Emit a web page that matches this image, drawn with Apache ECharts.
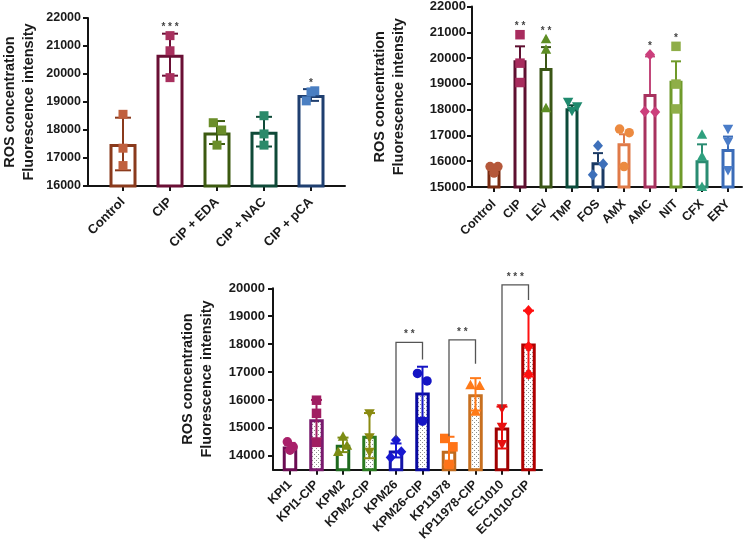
<!DOCTYPE html>
<html><head><meta charset="utf-8">
<script src="https://cdn.jsdelivr.net/npm/echarts@6/dist/echarts.min.js"></script>
<style>html,body{margin:0;padding:0;background:#fff}#c{width:750px;height:547px}</style>
</head><body><div id="c"></div>
<script>
const FONT = 'Arial, "Liberation Sans", Helvetica, sans-serif';

// ---------- Panel A (top left) ----------
const aCats  = ['Control', 'CIP', 'CIP + EDA', 'CIP + NAC', 'CIP + pCA'];
const aMean  = [17500, 20690, 17910, 17940, 19250];
const aErr   = [940, 750, 410, 530, 210];
const aPts   = [[18560, 17350, 16730], [21370, 20830, 19870], [18260, 18000, 17460], [18510, 17860, 17460], [19400, 19360, 19040]];
const aJit   = [[0, 0, 0], [0, 0, 0], [-0.08, 0.1, 0], [0, 0, 0], [0.08, 0, -0.1]];
const aStars = ['', '* * *', '', '', '*'];
const aTicks = [16000, 22000, 1000];

// ---------- Panel B (top right) ----------
const bCats  = ['Control', 'CIP', 'LEV', 'TMP', 'FOS', 'AMX', 'AMC', 'NIT', 'CFX', 'ERY'];
const bMean  = [15680, 19900, 19600, 18050, 15960, 16690, 18600, 19110, 16030, 16470];
const bErr   = [70, 540, 810, 110, 350, 350, 1450, 750, 620, 480];
const bPts   = [[15790, 15790, 15540], [20890, 19790, 19040], [20720, 20310, 18050], [18300, 18120, 17950],
                [16600, 15890, 15470], [17240, 17100, 15790], [20120, 17920, 17900], [20440, 18980, 18020],
                [17020, 16170, 15000], [17250, 16760, 15660]];
const bJit   = [[-0.15, 0.15, 0], [0, 0, 0], [0, 0, 0], [-0.15, 0.2, 0], [0, 0.2, -0.2], [-0.17, 0.2, 0],
                [0, -0.2, 0.2], [0, 0, 0], [0, 0, 0], [0, 0, 0]];
const bStars = ['', '* *', '* *', '', '', '', '*', '*', '', ''];
const bTicks = [15000, 22000, 1000];

// ---------- Panel C (bottom) ----------
const cCats  = ['KPI1', 'KPI1-CIP', 'KPM2', 'KPM2-CIP', 'KPM26', 'KPM26-CIP', 'KP11978', 'KP11978-CIP', 'EC1010', 'EC1010-CIP'];
const cMean  = [14330, 15310, 14390, 14720, 14190, 16270, 14180, 16200, 15010, 18020];
const cErr   = [130, 690, 260, 810, 250, 920, 500, 580, 750, 1180];
const cPts   = [[14500, 14320, 14200], [15990, 15520, 14480], [14680, 14360, 14140], [15520, 14660, 14140],
                [14560, 14140, 13940], [16950, 16680, 15240], [14620, 14320, 13690], [16530, 16500, 15580],
                [15700, 15040, 14420], [19200, 17910, 16920]];
const cJit   = [[-0.1, 0.12, 0], [0, 0, 0], [0, 0.15, -0.18], [0, 0, 0], [0, 0.2, -0.2], [-0.19, 0.17, 0],
                [-0.16, 0.15, 0], [-0.19, 0.16, 0], [0, 0, 0], [0, 0, 0]];
const cPairs    = [[4, 5], [6, 7], [8, 9]];
const cPairTop  = [18060, 18150, 20120];
const cPairLeft = [14660, 14700, 15710];
const cPairRight= [17450, 17300, 19580];
const cPairStar = ['* *', '* *', '* * *'];
const cTicks = [13500, 20000];

// ---------- styling ----------
function dotPattern() {
  const c = document.createElement('canvas');
  c.width = 4; c.height = 4;
  const g = c.getContext('2d');
  g.fillStyle = '#ffffff'; g.fillRect(0, 0, 4, 4);
  g.fillStyle = '#8c8c8c';
  g.fillRect(0, 0, 1, 1); g.fillRect(2, 2, 1, 1);
  return c;
}
const DOTS = { image: dotPattern(), repeat: 'repeat' };

const panels = [
  {
    cats: aCats, mean: aMean, err: aErr, pts: aPts, jit: aJit, stars: aStars,
    min: aTicks[0], max: aTicks[1], interval: aTicks[2],
    left: 99.5, top: 18, width: 235, height: 168, frameLeft: 88, frameWidth: 257,
    barWidth: 27, capWidth: 16, sym: 9, upOnly: false,
    xFont: 13, yFont: 12.5, nameGap: 50, yLabelMargin: 7, xLabelMargin: 14, starGap: 1,
    shapes: ['square', 'square', 'square', 'square', 'square'],
    barColor: ['#8a3a1c', '#6a0f35', '#3c5a10', '#0f4a38', '#1f3f70'],
    errColor: ['#8a3a1c', '#6a0f35', '#3c5a10', '#0f4a38', '#1f3f70'],
    ptColor: ['#c0603e', '#a8305e', '#6b8e2a', '#2b8a6a', '#4a7fc2'],
    fill: ['#fff', '#fff', '#fff', '#fff', '#fff']
  },
  {
    cats: bCats, mean: bMean, err: bErr, pts: bPts, jit: bJit, stars: bStars,
    min: bTicks[0], max: bTicks[1], interval: bTicks[2],
    left: 481, top: 6, width: 260, height: 181, frameLeft: 472, frameWidth: 270,
    barWidth: 13, capWidth: 10, sym: 9.5, upOnly: true,
    xFont: 12.5, yFont: 13, nameGap: 64, yLabelMargin: 6, xLabelMargin: 15, starGap: 3,
    shapes: ['circle', 'square', 'triangle', 'down', 'diamond', 'circle', 'diamond', 'square', 'triangle', 'down'],
    barColor: ['#7a2c12', '#5e0f30', '#3b5616', '#0c4b3a', '#1b3a64', '#e07a48', '#a8325f', '#6f9a2a', '#2a8c72', '#3b6cb8'],
    errColor: ['#7a2c12', '#5e0f30', '#3b5616', '#0c4b3a', '#1b3a64', '#e07a48', '#c2487a', '#6f9a2a', '#2a8c72', '#3b6cb8'],
    ptColor: ['#b5583a', '#a82c5e', '#5e8e24', '#1f8a6e', '#3e70ba', '#ec8a40', '#cc3f7c', '#8fae48', '#2fa07e', '#4a7cc8'],
    fill: ['#fff', '#fff', '#fff', '#fff', '#fff', '#fff', '#fff', '#fff', '#fff', '#fff']
  },
  {
    cats: cCats, mean: cMean, err: cErr, pts: cPts, jit: cJit, stars: null,
    min: cTicks[0], max: cTicks[1], splitNumber: 7,
    left: 276.75, top: 288.3, width: 265, height: 181.4, frameLeft: 273, frameWidth: 269,
    barWidth: 14.5, capWidth: 11, sym: 9.5, upOnly: false,
    xFont: 12.5, yFont: 13, nameGap: 57, yLabelMargin: 8, xLabelMargin: 13, starGap: 3,
    shapes: ['circle', 'square', 'triangle', 'down', 'diamond', 'circle', 'square', 'triangle', 'down', 'diamond'],
    barColor: ['#6a0c52', '#7a1a6e', '#1e6a1e', '#2a7a20', '#1414a8', '#0a0aa0', '#c06a1c', '#c87020', '#a00000', '#b00000'],
    errColor: ['#a8206a', '#a01e62', '#7c8c14', '#8a8a10', '#1818d0', '#1414c4', '#ff7418', '#ff7a18', '#e81010', '#ff1010'],
    ptColor: ['#a8206a', '#a01e62', '#7c8c14', '#8a8a10', '#1818d0', '#1414c4', '#ff7418', '#ff7a18', '#e81010', '#ff1010'],
    fill: ['#fff', DOTS, '#fff', DOTS, '#fff', DOTS, '#fff', DOTS, '#fff', DOTS],
    pairs: { idx: cPairs, top: cPairTop, left: cPairLeft, right: cPairRight, star: cPairStar }
  }
];

function symbolEl(shape, cx, cy, s, fill) {
  const h = s / 2;
  const st = { fill: fill };
  switch (shape) {
    case 'circle': return { type: 'circle', shape: { cx: cx, cy: cy, r: h }, style: st };
    case 'square': return { type: 'rect', shape: { x: cx - h, y: cy - h, width: s, height: s }, style: st };
    case 'triangle': return { type: 'polygon', shape: { points: [[cx, cy - h * 1.15], [cx + h * 1.1, cy + h * 0.85], [cx - h * 1.1, cy + h * 0.85]] }, style: st };
    case 'down': return { type: 'polygon', shape: { points: [[cx, cy + h * 1.15], [cx + h * 1.1, cy - h * 0.85], [cx - h * 1.1, cy - h * 0.85]] }, style: st };
    case 'diamond': return { type: 'polygon', shape: { points: [[cx, cy - h * 1.2], [cx + h * 1.05, cy], [cx, cy + h * 1.2], [cx - h * 1.05, cy]] }, style: st };
  }
}

const grids = [], xAxes = [], yAxes = [], series = [];
const AX = '#141414';

panels.forEach(function (p) {
  const gi = grids.length;
  grids.push({ left: p.left, top: p.top, width: p.width, height: p.height });
  grids.push({ left: p.frameLeft, top: p.top, width: p.frameWidth, height: p.height });

  xAxes.push({
    type: 'category', gridIndex: gi, data: p.cats,
    axisLine: { show: false },
    axisTick: { show: true, alignWithLabel: true, length: 5, lineStyle: { color: AX, width: 2 } },
    axisLabel: { rotate: 45, interval: 0, margin: p.xLabelMargin, fontFamily: FONT, fontWeight: 'bold', fontSize: p.xFont, color: '#1a1a1a' },
    splitLine: { show: false }
  });
  xAxes.push({
    type: 'value', gridIndex: gi + 1, min: 0, max: 1,
    axisLine: { show: true, lineStyle: { color: AX, width: 2 } },
    axisTick: { show: false }, axisLabel: { show: false }, splitLine: { show: false }
  });
  yAxes.push({ type: 'value', gridIndex: gi, min: p.min, max: p.max, show: false, splitLine: { show: false } });
  const ya = {
    type: 'value', gridIndex: gi + 1, min: p.min, max: p.max,
    axisLine: { show: true, lineStyle: { color: AX, width: 2 } },
    axisTick: { show: true, length: 5, lineStyle: { color: AX, width: 2 } },
    axisLabel: { margin: p.yLabelMargin, fontFamily: FONT, fontWeight: 'bold', fontSize: p.yFont, color: '#1a1a1a',
                 showMinLabel: p.interval ? true : false, formatter: function (v) { return String(v); } },
    splitLine: { show: false },
    name: 'ROS concentration\nFluorescence intensity', nameLocation: 'middle', nameGap: p.nameGap,
    nameTextStyle: { fontFamily: FONT, fontWeight: 'bold', fontSize: 14.5, lineHeight: 18.5, color: '#1a1a1a' }
  };
  if (p.interval) ya.interval = p.interval; else ya.splitNumber = p.splitNumber;
  yAxes.push(ya);

  // bars
  series.push({
    type: 'bar', xAxisIndex: gi, yAxisIndex: gi, barWidth: p.barWidth, z: 2, silent: true,
    data: p.mean.map(function (v, i) {
      return { value: v, itemStyle: { color: p.fill[i], borderColor: p.barColor[i], borderWidth: 3 } };
    })
  });

  // error bars
  series.push({
    type: 'custom', xAxisIndex: gi, yAxisIndex: gi, z: 3, silent: true,
    data: p.mean.map(function (v, i) { return [i, v, p.err[i]]; }),
    renderItem: function (params, api) {
      const i = api.value(0), m = api.value(1), e = api.value(2);
      const top = api.coord([i, m + e]);
      const bot = api.coord([i, p.upOnly ? m : m - e]);
      const w = p.capWidth / 2;
      const st = { stroke: p.errColor[i], lineWidth: 2 };
      const ch = [
        { type: 'line', shape: { x1: top[0], y1: top[1], x2: bot[0], y2: bot[1] }, style: st },
        { type: 'line', shape: { x1: top[0] - w, y1: top[1], x2: top[0] + w, y2: top[1] }, style: st }
      ];
      if (!p.upOnly) ch.push({ type: 'line', shape: { x1: bot[0] - w, y1: bot[1], x2: bot[0] + w, y2: bot[1] }, style: st });
      return { type: 'group', children: ch };
    }
  });

  // points
  const ptData = [];
  p.pts.forEach(function (arr, i) { arr.forEach(function (v, k) { ptData.push([i, v, p.jit[i][k]]); }); });
  series.push({
    type: 'custom', xAxisIndex: gi, yAxisIndex: gi, z: 4, silent: true,
    data: ptData,
    renderItem: function (params, api) {
      const i = api.value(0);
      const c = api.coord([i, api.value(1)]);
      const bw = api.size([1, 0])[0];
      return symbolEl(p.shapes[i], c[0] + api.value(2) * bw, c[1], p.sym, p.ptColor[i]);
    }
  });

  // significance stars above bars
  if (p.stars) {
    const sData = [];
    p.stars.forEach(function (s, i) {
      if (s) sData.push([i, Math.max(p.mean[i] + p.err[i], Math.max.apply(null, p.pts[i]))]);
    });
    series.push({
      type: 'custom', xAxisIndex: gi, yAxisIndex: gi, z: 5, silent: true,
      data: sData,
      renderItem: function (params, api) {
        const i = api.value(0);
        const c = api.coord([i, api.value(1)]);
        return { type: 'text', x: c[0], y: c[1] - p.starGap,
          style: { text: p.stars[i], fill: '#444', font: 'bold 10px ' + FONT, align: 'center', verticalAlign: 'bottom' } };
      }
    });
  }

  // comparison brackets
  if (p.pairs) {
    const q = p.pairs;
    series.push({
      type: 'custom', xAxisIndex: gi, yAxisIndex: gi, z: 5, silent: true, clip: false,
      data: q.idx.map(function (ab, k) { return [ab[0], ab[1], q.top[k], q.left[k], q.right[k], k]; }),
      renderItem: function (params, api) {
        const a = api.value(0), b = api.value(1), t = api.value(2), l = api.value(3), r = api.value(4), k = api.value(5);
        const p1 = api.coord([a, l]), p2 = api.coord([a, t]), p3 = api.coord([b, t]), p4 = api.coord([b, r]);
        return { type: 'group', children: [
          { type: 'polyline', shape: { points: [p1, p2, p3, p4] }, style: { stroke: '#555', lineWidth: 1.3, fill: null } },
          { type: 'text', x: (p2[0] + p3[0]) / 2, y: p2[1] - 3,
            style: { text: q.star[k], fill: '#444', font: 'bold 10px ' + FONT, align: 'center', verticalAlign: 'bottom' } }
        ] };
      }
    });
  }
});

const chart = echarts.init(document.getElementById('c'), null, { renderer: 'canvas' });
chart.setOption({
  animation: false,
  backgroundColor: '#ffffff',
  grid: grids, xAxis: xAxes, yAxis: yAxes, series: series
});
</script></body></html>
